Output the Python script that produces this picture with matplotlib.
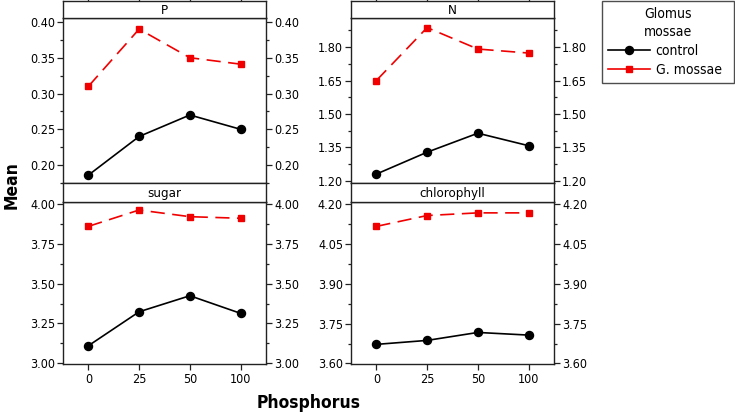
import matplotlib.pyplot as plt
from matplotlib.lines import Line2D
from matplotlib.ticker import MultipleLocator, FormatStrFormatter

phosphorus = ['0', '25', '50', '100']
panels = ['P', 'N', 'sugar', 'chlorophyll']

control = {
    'P': [0.186, 0.240, 0.270, 0.250],
    'N': [1.231, 1.329, 1.414, 1.358],
    'sugar': [3.109, 3.323, 3.424, 3.313],
    'chlorophyll': [3.672, 3.687, 3.717, 3.707],
}
mossae = {
    'P': [0.310, 0.390, 0.350, 0.341],
    'N': [1.650, 1.887, 1.791, 1.773],
    'sugar': [3.861, 3.964, 3.922, 3.912],
    'chlorophyll': [4.117, 4.158, 4.168, 4.168],
}

ylims = {'P': (0.175, 0.4055), 'N': (1.191, 1.93),
         'sugar': (2.994, 4.0145), 'chlorophyll': (3.598, 4.209)}
steps = {'P': 0.05, 'N': 0.15, 'sugar': 0.25, 'chlorophyll': 0.15}

W, H = 735, 413
plt.rcParams['font.family'] = 'DejaVu Sans'
plt.rcParams['font.stretch'] = 'condensed'
fig = plt.figure(figsize=(W / 100, H / 100), dpi=100)

def px_box(x0, x1, y0, y1):
    return [x0 / W, 1 - y1 / H, (x1 - x0) / W, (y1 - y0) / H]

cols = [(63, 266), (351, 554)]
rows = [(1, 18, 183), (183, 202, 364)]  # header top, plot top, plot bottom
x = list(range(len(phosphorus)))
spine_c = '#222222'
red = '#f00000'

for i, name in enumerate(panels):
    r, c = divmod(i, 2)
    x0, x1 = cols[c]
    ht, pt, pb = rows[r]

    ax = fig.add_axes(px_box(x0, x1, pt, pb))
    hx = fig.add_axes(px_box(x0, x1, ht, pt))

    ax.plot(x, control[name], color='black', lw=1.2, marker='o', ms=5.8)
    ax.plot(x, mossae[name], color=red, lw=1.2, marker='s', ms=5,
            dashes=(8.5, 4.5))
    ax.set_xlim(-0.5, 3.5)
    ax.set_ylim(*ylims[name])
    ax.yaxis.set_major_locator(MultipleLocator(steps[name]))
    ax.yaxis.set_minor_locator(MultipleLocator(steps[name] / 2))
    ax.yaxis.set_major_formatter(FormatStrFormatter('%.2f'))
    ax.tick_params(axis='y', which='both', left=True, right=True,
                   labelleft=True, labelright=True, direction='out',
                   labelsize=9, pad=1.5, color=spine_c)
    ax.tick_params(axis='y', which='major', length=4.3, width=0.9)
    ax.tick_params(axis='y', which='minor', length=2.5, width=0.9)
    ax.set_xticks(x)
    if r == 1:
        ax.set_xticklabels(phosphorus)
        ax.tick_params(axis='x', direction='out', length=4.3, width=0.9,
                       labelsize=9, pad=2.5, color=spine_c)
    else:
        ax.tick_params(axis='x', bottom=False, labelbottom=False)
    for s in ax.spines.values():
        s.set_color(spine_c)
        s.set_linewidth(1.0)

    hx.set_xlim(-0.5, 3.5)
    hx.set_yticks([])
    hx.set_xticks(x)
    hx.tick_params(axis='x', bottom=False, labelbottom=False,
                   top=(r == 0), labeltop=False, direction='out',
                   length=4.3, width=0.9, color=spine_c)
    for s in hx.spines.values():
        s.set_color(spine_c)
        s.set_linewidth(1.0)
    hx.text(0.5, 0.45, name, transform=hx.transAxes, ha='center',
            va='center', fontsize=9.5)

fig.text(12 / W, 1 - 185 / H, 'Mean', rotation=90, ha='center',
         va='center', fontsize=12.5, fontweight='bold')
fig.text(309 / W, 1 - 403 / H, 'Phosphorus', ha='center', va='center',
         fontsize=12.5, fontweight='bold')

handles = [Line2D([], [], color='black', lw=1.2, marker='o', ms=5.8),
           Line2D([], [], color=red, lw=1.2, marker='s', ms=5)]
leg = fig.legend(handles, ['control', 'G. mossae'], title='Glomus\nmossae',
                 loc='upper left', mode='expand',
                 bbox_to_anchor=(602 / W, 1 - 82 / H, 132 / W, 81 / H),
                 fancybox=False, edgecolor=spine_c, fontsize=10,
                 title_fontsize=10, handlelength=3.0, borderaxespad=0,
                 labelspacing=0.35, handletextpad=0.45, borderpad=0.42)
leg.get_frame().set_linewidth(1.0)
leg.get_title().set_linespacing(1.4)

fig.savefig('out.png', dpi=100)
